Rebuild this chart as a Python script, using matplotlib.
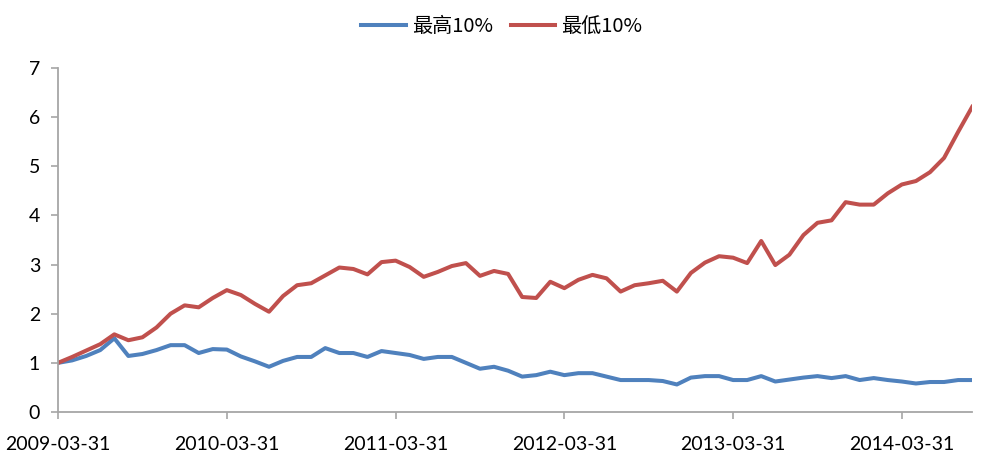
import matplotlib
matplotlib.use("Agg")
import matplotlib.pyplot as plt
import numpy as np

# monthly values, 2009-03 .. 2014-08
top10 = [1.00, 1.05, 1.14, 1.26, 1.50, 1.14, 1.18, 1.26, 1.36, 1.36, 1.20, 1.28,
         1.27, 1.13, 1.03, 0.92, 1.04, 1.12, 1.12, 1.30, 1.20, 1.20, 1.12, 1.24,
         1.20, 1.16, 1.08, 1.12, 1.12, 1.00, 0.88, 0.92, 0.84, 0.72, 0.75, 0.82,
         0.75, 0.79, 0.79, 0.72, 0.65, 0.65, 0.65, 0.63, 0.56, 0.70, 0.73, 0.73,
         0.65, 0.65, 0.73, 0.62, 0.66, 0.70, 0.73, 0.69, 0.73, 0.65, 0.69, 0.65,
         0.62, 0.58, 0.61, 0.61, 0.65, 0.65]
bottom10 = [1.00, 1.12, 1.25, 1.38, 1.58, 1.46, 1.52, 1.72, 2.00, 2.17, 2.13, 2.32,
            2.48, 2.38, 2.20, 2.04, 2.36, 2.58, 2.62, 2.78, 2.94, 2.91, 2.80, 3.05,
            3.08, 2.95, 2.75, 2.85, 2.97, 3.03, 2.77, 2.87, 2.81, 2.34, 2.32, 2.65,
            2.52, 2.69, 2.79, 2.72, 2.45, 2.58, 2.62, 2.67, 2.45, 2.83, 3.04, 3.17,
            3.14, 3.03, 3.48, 2.99, 3.20, 3.60, 3.85, 3.90, 4.27, 4.22, 4.22, 4.45,
            4.63, 4.70, 4.88, 5.17, 5.70, 6.21]
tick_labels = ["2009-03-31", "2010-03-31", "2011-03-31", "2012-03-31",
               "2013-03-31", "2014-03-31"]

x = np.arange(len(top10))
gray = "#a6a6a6"

fig = plt.figure(figsize=(9.84, 4.71), dpi=100)
ax = fig.add_axes([0.059, 0.1253, 0.929, 0.7303])

ax.plot(x, top10, color="#4f81bd", lw=2.9, label="最高10%", solid_joinstyle="round")
ax.plot(x, bottom10, color="#c0504d", lw=2.9, label="最低10%", solid_joinstyle="round")

ax.set_xlim(0, len(x) - 1)
ax.set_ylim(0, 7)
ax.set_xticks(np.arange(0, len(x), 12))
ax.set_xticklabels(tick_labels)
ax.set_yticks(range(0, 8))

for s in ["top", "right"]:
    ax.spines[s].set_visible(False)
for s in ["left", "bottom"]:
    ax.spines[s].set_color(gray)
    ax.spines[s].set_linewidth(1.3)

ax.tick_params(axis="x", length=5, width=1.2, color=gray, pad=12, labelsize=14)
ax.tick_params(axis="y", length=5, width=1.2, color=gray, pad=8, labelsize=14)
for lab in ax.get_xticklabels() + ax.get_yticklabels():
    lab.set_family("Lato")

leg = fig.legend(loc="center", bbox_to_anchor=(0.51, 1 - 27 / 471), ncol=2, frameon=False,
                 prop={"family": ["Noto Sans CJK SC", "DejaVu Sans"], "size": 14.5},
                 handlelength=2.2, columnspacing=0.9, handletextpad=0.3)

fig.savefig("out.png", dpi=100)
